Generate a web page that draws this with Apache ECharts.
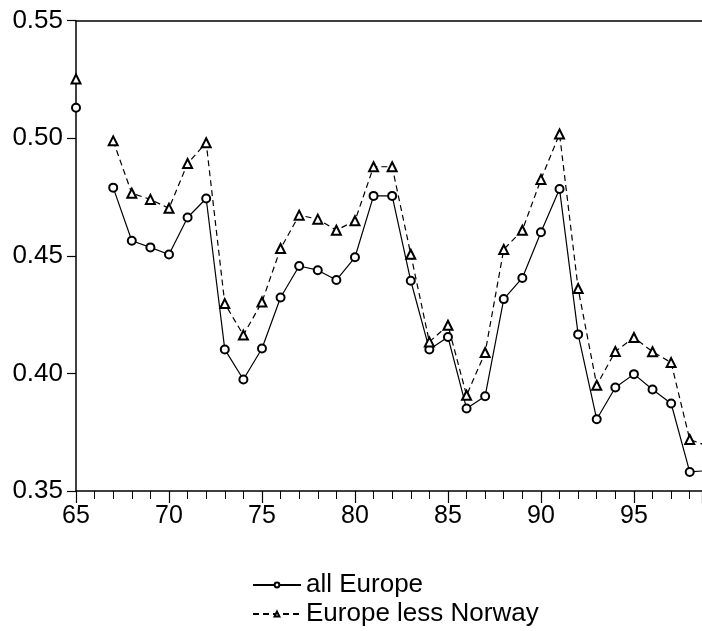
<!DOCTYPE html>
<html>
<head>
<meta charset="utf-8">
<script src="https://cdn.jsdelivr.net/npm/echarts@6/dist/echarts.min.js"></script>
<style>
  html, body { margin: 0; padding: 0; background: #fff; }
  #main { width: 702px; height: 631px; }
</style>
</head>
<body>
<div id="main"></div>
<script>
let chart = echarts.init(document.getElementById('main'));

// years (66 has no data)
let years = [65, 66, 67, 68, 69, 70, 71, 72, 73, 74, 75, 76, 77, 78, 79, 80, 81, 82,
	83, 84, 85, 86, 87, 88, 89, 90, 91, 92, 93, 94, 95, 96, 97, 98, 99];
let allEurope = [0.513, null, 0.479, 0.4564, 0.4536, 0.4506, 0.4663, 0.4744, 0.4102, 0.3974,
	0.4106, 0.4323, 0.4457, 0.4439, 0.4397, 0.4494, 0.4755, 0.4755, 0.4394, 0.4102,
	0.4155, 0.3851, 0.3903, 0.4316, 0.4406, 0.4600, 0.4784, 0.4166, 0.3805, 0.3940,
	0.3997, 0.3932, 0.3872, 0.3581, 0.3587];
let lessNorway = [0.5252, null, 0.4989, 0.4766, 0.4740, 0.4702, 0.4893, 0.4981, 0.4297, 0.4163,
	0.4304, 0.4531, 0.4673, 0.4656, 0.4609, 0.4649, 0.4879, 0.4879, 0.4507, 0.4134,
	0.4205, 0.3907, 0.4089, 0.4527, 0.4609, 0.4825, 0.5018, 0.4361, 0.3950, 0.4093,
	0.4153, 0.4092, 0.4046, 0.3719, 0.3690];
let yTicks = [0.35, 0.40, 0.45, 0.50, 0.55];

function pairs(vals) {
	return years.map((y, i) => [y, vals[i] === null ? '-' : vals[i]]);
}

let font = 'Liberation Sans, Arial, sans-serif';

// one legend per row, so they stay stacked
function legendRow(name, top) {
	return {
		left: 247,
		top: top,
		itemWidth: 48,
		itemHeight: 6,
		textStyle: { fontFamily: font, fontSize: 26, color: '#000' },
		data: [name]
	};
}

let option = {
	animation: false,
	backgroundColor: '#fff',
	grid: {
		left: 76,
		top: 20.7,
		right: 0,
		bottom: 140
	},
	legend: [
		legendRow('all Europe', 567),
		legendRow('Europe less Norway', 596)
	],
	xAxis: [{
		type: 'value',
		min: 65,
		max: 98.66,
		interval: 5,
		splitLine: { show: false },
		axisLine: { onZero: false, lineStyle: { color: '#000', width: 1.5 } },
		axisTick: { length: 12, lineStyle: { color: '#000', width: 1.2 } },
		minorTick: { show: true, splitNumber: 5, length: 8, lineStyle: { color: '#000', width: 1 } },
		axisLabel: { color: '#000', fontFamily: font, fontSize: 25, margin: 13, showMaxLabel: false }
	}, {
		type: 'value',
		position: 'top',
		min: 65,
		max: 98.66,
		splitLine: { show: false },
		axisLine: { onZero: false, lineStyle: { color: '#000', width: 1.5 } },
		axisTick: { show: false },
		axisLabel: { show: false }
	}],
	yAxis: {
		type: 'value',
		min: 0.35,
		max: 0.55,
		interval: 0.05,
		splitLine: { show: false },
		axisLine: { show: true, onZero: false, lineStyle: { color: '#000', width: 1.5 } },
		axisTick: { show: true, length: 9, lineStyle: { color: '#000', width: 1.2 } },
		axisLabel: {
			color: '#000', fontFamily: font, fontSize: 26, margin: 13,
			formatter: v => yTicks.find(t => Math.abs(t - v) < 1e-9).toFixed(2)
		}
	},
	series: [{
		name: 'all Europe',
		type: 'line',
		data: pairs(allEurope),
		symbol: 'emptyCircle',
		symbolSize: 8,
		showAllSymbol: true,
		connectNulls: false,
		clip: true,
		itemStyle: { color: '#000', borderWidth: 1 },
		lineStyle: { color: '#000', width: 1.2, type: 'solid' }
	}, {
		name: 'Europe less Norway',
		type: 'line',
		data: pairs(lessNorway),
		symbol: 'emptyTriangle',
		symbolSize: 9,
		showAllSymbol: true,
		connectNulls: false,
		clip: true,
		itemStyle: { color: '#000', borderWidth: 1 },
		lineStyle: { color: '#000', width: 1.2, type: [6, 4] }
	}]
};
chart.setOption(option);
</script>
</body>
</html>
